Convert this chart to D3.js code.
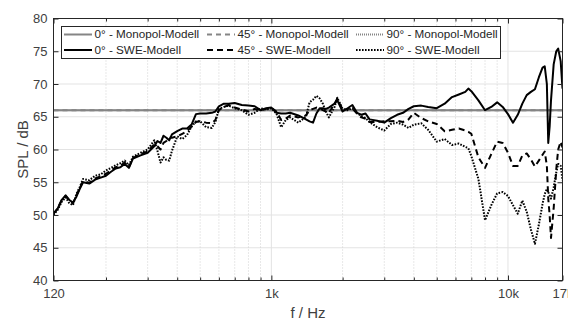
<!DOCTYPE html>
<html>
<head>
<meta charset="utf-8">
<script src="https://cdn.jsdelivr.net/npm/d3@7"></script>
<style>
body { margin: 0; background: #fff; }
svg { display: block; font-family: "Liberation Sans", Arial, sans-serif; }
</style>
</head>
<body>
<div id="container"></div>
<script>
// frequency grid (Hz) shared by the SWE curves
const freq = [120, 125, 130, 135, 140, 145, 150, 155, 160, 170, 180, 190, 200, 210, 220, 230, 240, 250, 260, 280,
    300, 320, 330, 340, 350, 360, 370, 380, 400, 420, 440, 460, 480, 500, 530, 560, 580, 600, 630, 660,
    700, 750, 800, 850, 900, 950, 1000, 1050, 1100, 1150, 1200, 1300, 1400, 1450, 1500, 1550, 1600, 1650, 1700, 1750,
    1850, 1900, 2000, 2100, 2200, 2300, 2400, 2500, 2600, 2800, 3000, 3200, 3400, 3600, 3800, 4000, 4300, 4600, 5000, 5400,
    5800, 6200, 6600, 6800, 7000, 7500, 8000, 8500, 9000, 9500, 10000, 10500, 11000, 11500, 12000, 12500, 13000, 13500, 14000, 14300,
    14600, 14800, 15000, 15200, 15600, 16000, 16300, 16700, 17000]

const swe0 = [50.2, 51.0, 52.3, 53.0, 52.3, 51.9, 52.8, 54.0, 55.0, 54.8, 55.4, 55.7, 56.0, 56.6, 57.1, 57.3, 57.8, 57.2, 58.6, 59.1,
    59.5, 60.5, 61.3, 61.0, 62.1, 61.8, 61.4, 62.3, 62.8, 63.2, 63.2, 63.8, 65.4, 65.5, 65.5, 65.6, 65.8, 66.6, 67.0, 67.0,
    67.1, 66.8, 66.7, 66.6, 66.0, 66.3, 66.4, 65.6, 65.5, 65.5, 65.6, 65.2, 64.6, 64.3, 64.1, 65.5, 66.3, 66.3, 66.2, 66.4,
    67.0, 67.5, 65.8, 66.3, 66.8, 65.6, 65.3, 65.5, 64.6, 64.4, 64.1, 64.8, 65.3, 65.6, 66.2, 66.6, 66.7, 66.5, 66.3, 67.0,
    68.0, 68.4, 68.8, 69.3, 68.9, 67.5, 66.0, 66.5, 67.2, 66.5, 65.4, 64.1, 65.3, 67.0, 68.3, 68.8, 69.2, 71.0, 72.5, 72.7,
    70.0, 61.0, 63.5, 67.5, 73.0, 75.0, 75.4, 73.5, 69.3]

const swe45 = [50.2, 51.0, 52.3, 52.9, 52.2, 51.8, 53.0, 54.1, 55.2, 54.9, 55.6, 55.9, 56.3, 56.8, 57.3, 57.5, 58.0, 57.3, 58.7, 59.3,
    59.7, 60.8, 60.5, 60.0, 61.0, 61.3, 61.8, 61.8, 62.0, 62.4, 62.8, 63.5, 64.2, 64.3, 64.1, 64.0, 64.5, 66.0, 66.5, 66.8,
    66.4, 66.1, 65.8, 66.2, 66.0, 66.2, 66.4, 65.8, 64.5, 64.7, 65.2, 64.9, 65.2, 66.0, 66.2, 66.4, 66.3, 66.0, 65.8, 65.6,
    67.0, 67.8, 66.0, 66.2, 66.3, 65.5, 64.9, 64.7, 64.2, 64.2, 64.3, 64.3, 64.4, 64.2, 64.6, 65.6, 64.8, 64.3, 63.9, 62.8,
    63.0, 63.2, 62.9, 62.7, 62.4, 58.8, 57.2, 59.3, 61.2, 61.0, 59.5, 57.5, 57.5, 59.1, 59.4, 58.5, 57.4, 58.3, 59.2, 59.7,
    57.5, 52.5, 50.0, 46.5, 51.0, 57.0, 60.0, 61.2, 60.3]

const swe90 = [50.0, 50.8, 52.0, 52.7, 51.8, 51.5, 53.2, 54.3, 55.5, 55.3, 56.0, 56.2, 56.8, 57.2, 57.6, 57.9, 58.3, 57.6, 58.9, 59.5,
    60.0, 61.4, 59.8, 58.0, 58.8, 58.4, 58.3, 59.8, 62.0, 61.6, 62.2, 63.5, 64.3, 64.3, 63.4, 63.3, 64.2, 66.2, 66.5, 66.7,
    66.3, 66.0, 65.3, 65.6, 66.3, 66.1, 66.3, 65.5, 63.4, 64.5, 64.9, 64.1, 65.0, 67.2, 67.6, 68.2, 67.8, 67.0, 65.8, 64.9,
    66.5, 67.9, 66.2, 66.0, 66.3, 65.6, 65.1, 64.8, 64.2, 63.4, 62.9, 63.9, 64.1, 63.8, 63.3, 63.8, 64.0, 63.0, 61.2, 61.6,
    60.7, 60.9, 60.4, 60.2, 59.0, 55.5, 49.2, 51.5, 53.3, 53.5, 52.9, 51.5, 50.2, 52.2, 50.5, 47.8, 45.6, 48.5, 51.7, 53.2,
    54.0, 53.5, 53.0, 52.5, 54.2, 56.5, 57.8, 57.5, 55.3]

// monopol model: flat level for all angles
const monoFreq = [120, 17000]
const mono0 = [66, 66]
const mono45 = [66, 66]
const mono90 = [66, 66]

const xTickValues = [120, 1000, 10000, 17000]
const xTickLabels = ['120', '1k', '10k', '17k']
const xMinorTicks = [200, 300, 400, 500, 600, 700, 800, 900, 2000, 3000, 4000, 5000, 6000, 7000, 8000, 9000]
const yTickValues = [40, 45, 50, 55, 60, 65, 70, 75, 80]

const legendLabels = ['0° - Monopol-Modell', '45° - Monopol-Modell', '90° - Monopol-Modell',
    '0° - SWE-Modell', '45° - SWE-Modell', '90° - SWE-Modell']

const config = {
    width: 568,
    height: 320,
    left: 53.5,
    right: 562.5,
    top: 18.5,
    bottom: 280.5,
}

const textColor = '#262626'
const gray = '#858585'

const svg = d3.select('#container')
    .append('svg')
    .attr('width', config.width)
    .attr('height', config.height)

const xScale = d3.scaleLog()
    .domain([120, 17000])
    .range([config.left, config.right])

const yScale = d3.scaleLinear()
    .domain([40, 80])
    .range([config.bottom, config.top])

svg.append('defs').append('clipPath')
    .attr('id', 'plot-clip')
    .append('rect')
    .attr('x', config.left)
    .attr('y', config.top)
    .attr('width', config.right - config.left)
    .attr('height', config.bottom - config.top)

// grid
const grid = svg.append('g')
grid.selectAll('.hgrid')
    .data(yTickValues.slice(1, -1))
    .join('line')
    .attr('x1', config.left).attr('x2', config.right)
    .attr('y1', d => yScale(d)).attr('y2', d => yScale(d))
    .attr('stroke', '#e3e3e3')
    .attr('stroke-width', 1)
grid.selectAll('.vminor')
    .data(xMinorTicks)
    .join('line')
    .attr('x1', d => xScale(d)).attr('x2', d => xScale(d))
    .attr('y1', config.top).attr('y2', config.bottom)
    .attr('stroke', '#d0d0d0')
    .attr('stroke-dasharray', '1,2')
grid.selectAll('.vmajor')
    .data([1000, 10000])
    .join('line')
    .attr('x1', d => xScale(d)).attr('x2', d => xScale(d))
    .attr('y1', config.top).attr('y2', config.bottom)
    .attr('stroke', '#e3e3e3')

// curves
const line = d3.line()
    .x(d => xScale(d[0]))
    .y(d => yScale(d[1]))

const plot = svg.append('g').attr('clip-path', 'url(#plot-clip)')

const series = [
    {f: monoFreq, v: mono90, color: gray, width: 2, dash: '1,1'},
    {f: monoFreq, v: mono45, color: gray, width: 2, dash: '5,4'},
    {f: monoFreq, v: mono0, color: gray, width: 2, dash: null},
    {f: freq, v: swe90, color: '#000', width: 2, dash: '1.6,1.4'},
    {f: freq, v: swe45, color: '#000', width: 2, dash: '6,4'},
    {f: freq, v: swe0, color: '#000', width: 2, dash: null},
]

plot.selectAll('path')
    .data(series)
    .join('path')
    .attr('d', s => line(s.f.map((f, i) => [f, s.v[i]])))
    .attr('fill', 'none')
    .attr('stroke', s => s.color)
    .attr('stroke-width', s => s.width)
    .attr('stroke-dasharray', s => s.dash)
    .attr('stroke-linejoin', 'round')

// axes
const styleAxis = g => {
    g.select('.domain').remove()
    g.selectAll('.tick line').attr('stroke', textColor)
    g.selectAll('.tick text').attr('fill', '#404040').style('font-size', '13px')
}

svg.append('g')
    .attr('transform', `translate(0,${config.bottom})`)
    .call(d3.axisBottom(xScale)
        .tickValues(xTickValues)
        .tickFormat((d, i) => xTickLabels[i])
        .tickSizeInner(-5).tickSizeOuter(0).tickPadding(8))
    .call(styleAxis)

svg.append('g')
    .attr('transform', `translate(0,${config.bottom})`)
    .call(d3.axisBottom(xScale).tickValues(xMinorTicks).tickFormat('').tickSizeInner(-3).tickSizeOuter(0))
    .call(styleAxis)

svg.append('g')
    .attr('transform', `translate(0,${config.top})`)
    .call(d3.axisTop(xScale).tickValues(xTickValues).tickFormat('').tickSizeInner(-5).tickSizeOuter(0))
    .call(styleAxis)

svg.append('g')
    .attr('transform', `translate(0,${config.top})`)
    .call(d3.axisTop(xScale).tickValues(xMinorTicks).tickFormat('').tickSizeInner(-3).tickSizeOuter(0))
    .call(styleAxis)

svg.append('g')
    .attr('transform', `translate(${config.left},0)`)
    .call(d3.axisLeft(yScale).tickValues(yTickValues).tickSizeInner(-5).tickSizeOuter(0).tickPadding(6))
    .call(styleAxis)

svg.append('g')
    .attr('transform', `translate(${config.right},0)`)
    .call(d3.axisRight(yScale).tickValues(yTickValues).tickFormat('').tickSizeInner(-5).tickSizeOuter(0))
    .call(styleAxis)

svg.append('rect')
    .attr('x', config.left)
    .attr('y', config.top)
    .attr('width', config.right - config.left)
    .attr('height', config.bottom - config.top)
    .attr('fill', 'none')
    .attr('stroke', textColor)
    .attr('stroke-width', 1)

// axis labels
svg.append('text')
    .attr('text-anchor', 'middle')
    .attr('x', (config.left + config.right) / 2)
    .attr('y', 318)
    .text('f / Hz')
    .style('font-size', '15px')
    .style('fill', '#404040')

svg.append('text')
    .attr('text-anchor', 'middle')
    .attr('transform', `translate(28,${(config.top + config.bottom) / 2}) rotate(-90)`)
    .text('SPL / dB')
    .style('font-size', '15px')
    .style('fill', '#404040')

// legend
const legendCols = [64, 207, 356]
const legendRows = [34.5, 50]
const legend = svg.append('g')

legend.append('rect')
    .attr('x', 61.5)
    .attr('y', 26.5)
    .attr('width', 439)
    .attr('height', 32)
    .attr('fill', '#fff')
    .attr('stroke', textColor)
    .attr('stroke-width', 1)

const legendItems = legend.selectAll('.item')
    .data(series.slice(0, 3).reverse().concat(series.slice(3).reverse()))
    .join('g')
    .attr('transform', (_, i) => `translate(${legendCols[i % 3]},${legendRows[Math.floor(i / 3)]})`)

legendItems.append('line')
    .attr('x1', 0).attr('x2', 28)
    .attr('stroke', s => s.color)
    .attr('stroke-width', s => s.width)
    .attr('stroke-dasharray', s => s.dash)

legendItems.append('text')
    .attr('x', 30.5)
    .attr('dominant-baseline', 'middle')
    .attr('dy', '0.05em')
    .text((_, i) => legendLabels[i])
    .style('font-size', '11.7px')
    .style('fill', textColor)
</script>
</body>
</html>
